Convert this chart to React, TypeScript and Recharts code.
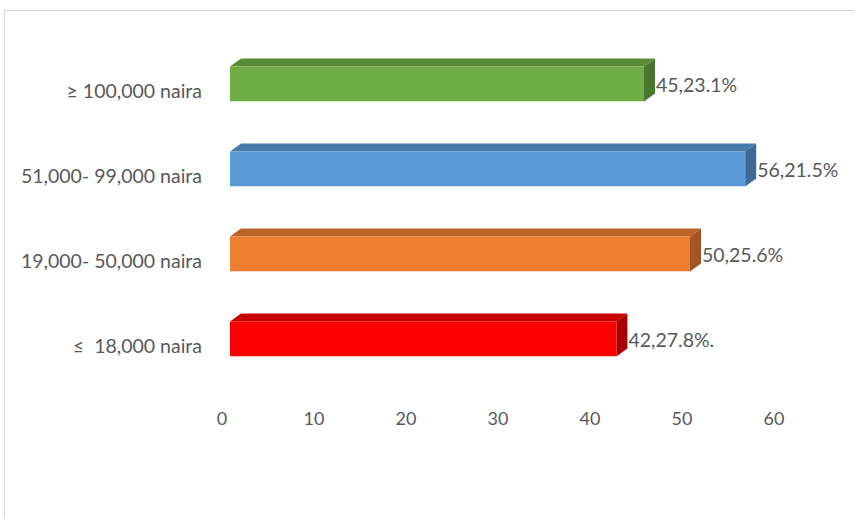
import React from "react";
import { Bar, BarChart, Cell, XAxis, YAxis, LabelList } from "recharts";

// income groups, top to bottom as drawn
const categories = [
  "≥ 100,000 naira",
  "51,000- 99,000 naira",
  "19,000- 50,000 naira",
  "≤  18,000 naira",
];
const counts = [45, 56, 50, 42];
const percents = ["23.1%", "21.5%", "25.6%", "27.8%."];
const xTicks = [0, 10, 20, 30, 40, 50, 60];

// front / top / side shades for each bar
const fronts = ["#70AD47", "#5B9BD5", "#ED7D31", "#FF0000"];
const tops = ["#5A8C38", "#467BAA", "#BE6326", "#C80000"];
const sides = ["#4A7730", "#3C6A94", "#A45420", "#A80000"];

const data = categories.map((name, i) => ({
  name,
  count: counts[i],
  label: `${counts[i]},${percents[i]}`,
}));

const TEXT = "#595959";
const FONT = "Lato, Calibri, Carlito, sans-serif";
const DX = 11; // 3d depth
const DY = 8;

function Bar3D(props: any) {
  const { x, y, width, height, index } = props;
  const fx = x + 8;
  const fy = y - 8.5;
  const w = width;
  const h = height;
  return (
    <g>
      <polygon
        points={`${fx},${fy} ${fx + DX},${fy - DY} ${fx + w + DX},${fy - DY} ${fx + w},${fy}`}
        fill={tops[index]}
      />
      <polygon
        points={`${fx + w},${fy} ${fx + w + DX},${fy - DY} ${fx + w + DX},${fy + h - DY} ${fx + w},${fy + h}`}
        fill={sides[index]}
      />
      <rect x={fx} y={fy} width={w} height={h} fill={fronts[index]} />
      <line x1={fx} x2={fx + w} y1={fy + h} y2={fy + h} stroke="#ffffff" strokeOpacity={0.5} />
    </g>
  );
}

function BarLabel(props: any) {
  const { x, y, width, height, value } = props;
  return (
    <text
      x={x + 8 + width + DX + 1}
      y={y - 8.5 + height / 2 + 3}
      fill={TEXT}
      fontSize={19.5}
      fontFamily={FONT}
      dominantBaseline="middle"
    >
      {value}
    </text>
  );
}

function YTick(props: any) {
  const { x, y, payload } = props;
  return (
    <text
      x={x}
      y={y + 1}
      textAnchor="end"
      dominantBaseline="middle"
      fill={TEXT}
      fontSize={19.5}
      fontFamily={FONT}
      style={{ whiteSpace: "pre" }}
    >
      {payload.value}
    </text>
  );
}

function XTick(props: any) {
  const { x, y, payload } = props;
  return (
    <text x={x} y={y} textAnchor="middle" dominantBaseline="middle" fill={TEXT} fontSize={18} fontFamily={FONT}>
      {payload.value}
    </text>
  );
}

export default function App() {
  return (
    <div style={{ position: "absolute", left: 0, top: 0, width: 854, height: 519, background: "#fff", overflow: "hidden" }}>
      <div
        style={{
          position: "absolute",
          left: 4,
          top: 10,
          width: 860,
          height: 520,
          borderTop: "1.5px solid #d9d9d9",
          borderLeft: "1.5px solid #d9d9d9",
        }}
      />
      <div style={{ position: "absolute", left: 0, top: 0 }}>
        <BarChart
          width={854}
          height={519}
          data={data}
          layout="vertical"
          margin={{ top: 50, right: 80, bottom: 89, left: 0 }}
        >
          <XAxis
            type="number"
            domain={[0, 60]}
            ticks={xTicks}
            axisLine={false}
            tickLine={false}
            tickSize={0}
            tickMargin={30}
            height={40}
            tick={<XTick />}
          />
          <YAxis
            type="category"
            dataKey="name"
            width={222}
            axisLine={false}
            tickLine={false}
            tickSize={0}
            tickMargin={20}
            tick={<YTick />}
          />
          <Bar dataKey="count" barSize={35} isAnimationActive={false} shape={<Bar3D />}>
            {data.map((d, i) => (
              <Cell key={d.name} fill={fronts[i]} />
            ))}
            <LabelList dataKey="label" content={<BarLabel />} />
          </Bar>
        </BarChart>
      </div>
    </div>
  );
}
